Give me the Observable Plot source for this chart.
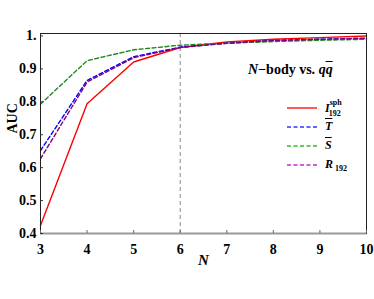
<!DOCTYPE html>
<html>
<head>
<meta charset="utf-8">
<script src="https://cdn.jsdelivr.net/npm/d3@7"></script>
<script src="https://cdn.jsdelivr.net/npm/@observablehq/plot@0.6"></script>
<style>
  html, body { margin: 0; padding: 0; background: #fff; }
  #wrap { position: relative; width: 374px; height: 299px; font-family: "Liberation Serif", "Times New Roman", "DejaVu Serif", serif; }
  #title { position: absolute; left: 248px; top: 62px; font-weight: bold; font-size: 14px; white-space: nowrap; }
  #legend { position: absolute; left: 286px; top: 100px; font-size: 12px; }
  .row { position: absolute; left: 0; height: 16px; white-space: nowrap; }
  .row svg { position: absolute; left: 0; top: 4px; }
  .row span.lab { position: absolute; left: 39px; top: 0; font-style: italic; font-weight: bold; }
  sup, sub { font-size: 8px; font-style: normal; }
</style>
</head>
<body>
<div id="wrap">
  <div id="chart"></div>
  <div id="title"><i>N</i>&minus;body vs. <i>q</i><i style="text-decoration: overline;">q</i></div>
  <div id="legend"></div>
</div>
<script>
const FONT = "'Liberation Serif', 'Times New Roman', 'DejaVu Serif', serif";
const N = [3, 4, 5, 6, 7, 8, 9, 10];
const sphValues = [0.424, 0.794, 0.921, 0.965, 0.982, 0.990, 0.995, 1.000];
const tValues   = [0.652, 0.865, 0.937, 0.966, 0.978, 0.986, 0.990, 0.993];
const sValues   = [0.793, 0.925, 0.958, 0.972, 0.978, 0.983, 0.987, 0.990];
const rValues   = [0.627, 0.860, 0.934, 0.965, 0.978, 0.986, 0.990, 0.993];
const seriesNames = ["sph", "T", "S", "R"];
const seriesColors = ["#ff0000", "#0000ff", "#1f8a1f", "#800080"];
const seriesDash = [null, "4,2.5", "4,2.5", "4,2.5"];
const legendColors = ["#ff0000", "#3333ff", "#33bb33", "#bb33bb"];
const legendLabels = [
  '<i>I</i><sup style="position:relative;top:-2px">sph</sup><sub style="position:relative;left:-13px;top:1px">192</sub>',
  '<span style="text-decoration:overline">T</span>',
  '<span style="text-decoration:overline">S</span>',
  '<i>R</i><sub> 192</sub>'
];
const xTicks = [3, 4, 5, 6, 7, 8, 9, 10];
const yTicks = [0.4, 0.5, 0.6, 0.7, 0.8, 0.9, 1.0];
const yTickLabels = ["0.4", "0.5", "0.6", "0.7", "0.8", "0.9", "1."];
const cutN = 6;

const allValues = [sphValues, tValues, sValues, rValues];
const rows = [];
allValues.forEach((vals, si) => vals.forEach((v, i) => rows.push({series: seriesNames[si], n: N[i], auc: v})));

const marks = [
  Plot.ruleX([cutN], {stroke: "#888", strokeDasharray: "4,3", strokeWidth: 1}),
];
seriesNames.forEach((s, si) => {
  marks.push(Plot.line(rows.filter(d => d.series === s), {
    x: "n", y: "auc", stroke: seriesColors[si], strokeWidth: 1.4,
    strokeDasharray: seriesDash[si]
  }));
});
marks.push(
  Plot.frame({stroke: "#222", strokeWidth: 1}),
  Plot.ruleY([0.4], {stroke: "#999", strokeWidth: 2}),
  Plot.axisX({ticks: xTicks, tickSize: -3, tickPadding: 14, tickFormat: d => String(d),
    fontSize: 14, fontWeight: "bold", fontFamily: FONT, stroke: "#666", label: null}),
  Plot.axisY({ticks: yTicks, tickSize: -3, tickPadding: 7, tickFormat: d => yTickLabels[yTicks.findIndex(t => Math.abs(t - d) < 1e-9)],
    fontSize: 14, fontWeight: "bold", fontFamily: FONT, stroke: "#333", label: null}),
  Plot.text(["N"], {frameAnchor: "bottom", dy: 31, fontSize: 15, fontWeight: "bold", fontStyle: "italic", fontFamily: FONT}),
  Plot.text(["AUC"], {frameAnchor: "left", dx: -28, rotate: -90, fontSize: 14, fontWeight: "bold", fontFamily: FONT})
);

const chart = Plot.plot({
  width: 374, height: 299,
  marginLeft: 40, marginRight: 8, marginTop: 33, marginBottom: 66,
  style: {fontFamily: FONT, color: "#000", background: "#fff"},
  x: {domain: [3, 10]},
  y: {domain: [0.4, 1.0075]},
  marks
});
document.getElementById("chart").appendChild(chart);

const legend = document.getElementById("legend");
seriesNames.forEach((s, si) => {
  const row = document.createElement("div");
  row.className = "row";
  row.style.top = (si * 19) + "px";
  const dash = seriesDash[si] ? `stroke-dasharray="${seriesDash[si]}"` : "";
  row.innerHTML = `<svg width="32" height="8"><line x1="1" y1="4" x2="31" y2="4" stroke="${legendColors[si]}" stroke-width="1.3" ${dash}/></svg><span class="lab">${legendLabels[si]}</span>`;
  legend.appendChild(row);
});
</script>
</body>
</html>
